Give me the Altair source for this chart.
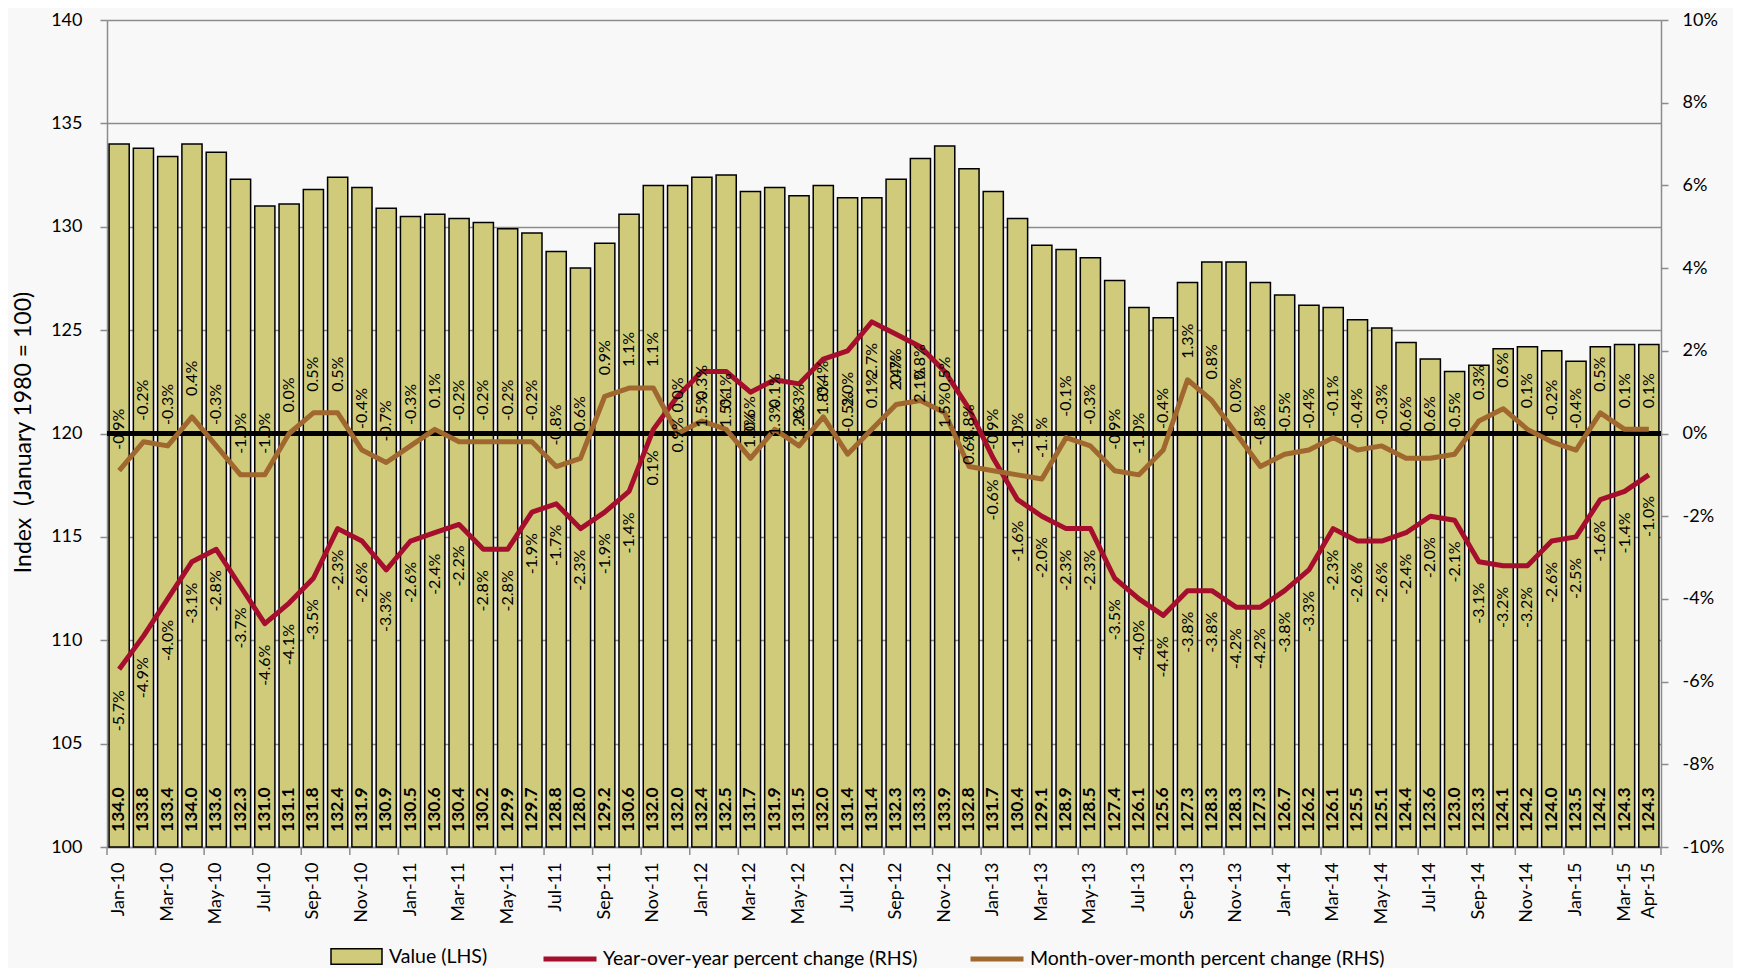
import altair as alt
import pandas as pd

# ---------------- data ----------------
month_names = ["Jan", "Feb", "Mar", "Apr", "May", "Jun",
               "Jul", "Aug", "Sep", "Oct", "Nov", "Dec"]
years = ["10", "11", "12", "13", "14", "15"]
months = [f"{m}-{y}" for y in years for m in month_names][:64]

values = [134.0, 133.8, 133.4, 134.0, 133.6, 132.3, 131.0, 131.1, 131.8, 132.4, 131.9, 130.9,
          130.5, 130.6, 130.4, 130.2, 129.9, 129.7, 128.8, 128.0, 129.2, 130.6, 132.0, 132.0,
          132.4, 132.5, 131.7, 131.9, 131.5, 132.0, 131.4, 131.4, 132.3, 133.3, 133.9, 132.8,
          131.7, 130.4, 129.1, 128.9, 128.5, 127.4, 126.1, 125.6, 127.3, 128.3, 128.3, 127.3,
          126.7, 126.2, 126.1, 125.5, 125.1, 124.4, 123.6, 123.0, 123.3, 124.1, 124.2, 124.0,
          123.5, 124.2, 124.3, 124.3]

yoy = [-5.7, -4.9, -4.0, -3.1, -2.8, -3.7, -4.6, -4.1, -3.5, -2.3, -2.6, -3.3,
       -2.6, -2.4, -2.2, -2.8, -2.8, -1.9, -1.7, -2.3, -1.9, -1.4, 0.1, 0.9,
       1.5, 1.5, 1.0, 1.3, 1.2, 1.8, 2.0, 2.7, 2.4, 2.1, 1.5, 0.6,
       -0.6, -1.6, -2.0, -2.3, -2.3, -3.5, -4.0, -4.4, -3.8, -3.8, -4.2, -4.2,
       -3.8, -3.3, -2.3, -2.6, -2.6, -2.4, -2.0, -2.1, -3.1, -3.2, -3.2, -2.6,
       -2.5, -1.6, -1.4, -1.0]

mom = [-0.9, -0.2, -0.3, 0.4, -0.3, -1.0, -1.0, 0.0, 0.5, 0.5, -0.4, -0.7,
       -0.3, 0.1, -0.2, -0.2, -0.2, -0.2, -0.8, -0.6, 0.9, 1.1, 1.1, 0.0,
       0.3, 0.1, -0.6, 0.1, -0.3, 0.4, -0.5, 0.1, 0.7, 0.8, 0.5, -0.8,
       -0.9, -1.0, -1.1, -0.1, -0.3, -0.9, -1.0, -0.4, 1.3, 0.8, 0.0, -0.8,
       -0.5, -0.4, -0.1, -0.4, -0.3, -0.6, -0.6, -0.5, 0.3, 0.6, 0.1, -0.2,
       -0.4, 0.5, 0.1, 0.1]

SERIES_VALUE = "Value (LHS)"
SERIES_YOY = "Year-over-year percent change (RHS)"
SERIES_MOM = "Month-over-month percent change (RHS)"

left_ticks = [100, 105, 110, 115, 120, 125, 130, 135, 140]
right_ticks = [-10, -8, -6, -4, -2, 0, 2, 4, 6, 8, 10]
labelled = ["Jan", "Mar", "May", "Jul", "Sep", "Nov"]

# ---------------- tables ----------------
bars_df = pd.DataFrame({"month": months, "value": values, "series": SERIES_VALUE})
lines_df = pd.concat([
    pd.DataFrame({"month": months, "pct": yoy, "series": SERIES_YOY}),
    pd.DataFrame({"month": months, "pct": mom, "series": SERIES_MOM}),
], ignore_index=True)
yoy_df = pd.DataFrame({"month": months, "pct": yoy})
mom_df = pd.DataFrame({"month": months, "pct": mom})
tick_df = pd.DataFrame({"month": [m for m in months if m[:3] in labelled]})
end_df = pd.DataFrame({"month": [months[-1]]})

# ---------------- style ----------------
FONT = "Lato"
BAR = "#CFCB7B"
RED = "#A50F2D"
BROWN = "#A0672F"
GRAY = "#8C8C8C"
BG = "#F8F8F8"
W, H = 1554, 827

x_scale = alt.Scale(domain=months, paddingInner=0, paddingOuter=0)
x_axis = alt.Axis(
    title=None, labelAngle=270, ticks=False, tickSize=0, labelPadding=15,
    labelFontSize=18, labelFont=FONT, labelColor="black", grid=False,
    domainColor=GRAY, domainWidth=1.5, labelOverlap=False,
    labelExpr="indexof(['Jan','Mar','May','Jul','Sep','Nov'], slice(datum.label, 0, 3)) >= 0 || datum.label == 'Apr-15' ? datum.label : ''",
)


def xenc(band=None):
    if band is None:
        return alt.X("month:N", sort=months, scale=x_scale, axis=x_axis)
    return alt.X("month:N", sort=months, scale=x_scale, axis=x_axis, bandPosition=band)


left_scale = alt.Scale(domain=[100, 140], nice=False, zero=False)
left_axis = alt.Axis(
    values=left_ticks, tickSize=7, tickWidth=1.5, tickColor=GRAY,
    labelPadding=18, labelFontSize=18, labelFont=FONT, labelColor="black",
    grid=True, gridColor=GRAY, gridWidth=1.5, domainColor=GRAY, domainWidth=1.5,
    title="Index\u00a0 (January 1980 = 100)", titleFont=FONT, titleFontSize=23,
    titleFontWeight="normal", titleColor="black", titleX=-84, titleY=412,
    titleAngle=270, titleAlign="center", titleBaseline="middle",
)

right_scale = alt.Scale(domain=[-10, 10], nice=False)
right_axis = alt.Axis(
    orient="right", values=right_ticks, tickSize=7, tickWidth=1.5, tickColor=GRAY,
    labelPadding=14, labelFontSize=18, labelFont=FONT, labelColor="black",
    labelExpr="(datum.value < 0 ? '-' : '') + abs(datum.value) + '%'",
    grid=False, domainColor=GRAY, domainWidth=1.5, title=None,
)

# ---------------- left (index) layers ----------------
bars = alt.Chart(bars_df).mark_bar(
    width=alt.RelativeBandSize(0.83), stroke="black", strokeWidth=1.5
).encode(
    x=xenc(),
    y=alt.Y("value:Q", scale=left_scale, axis=left_axis),
    y2=alt.Y2Datum(100),
    fill=alt.Fill("series:N", scale=alt.Scale(domain=[SERIES_VALUE], range=[BAR]),
                  legend=alt.Legend(title=None, orient="none", legendX=223, legendY=910,
                                    symbolType="M-1,-0.3H1V0.3H-1Z", symbolSize=2601,
                                    symbolStrokeColor="black", symbolStrokeWidth=1.5,
                                    labelFontSize=19.5, labelFont=FONT, labelColor="black",
                                    labelOffset=6, labelLimit=600)),
)

bar_text = alt.Chart(bars_df).transform_calculate(
    lbl="format(datum.value, '.1f')"
).mark_text(
    angle=270, align="left", baseline="middle", dx=15,
    fontSize=17.5, fontWeight="bold", font=FONT, color="black"
).encode(
    x=xenc(),
    y=alt.YDatum(100, type="quantitative", scale=left_scale, axis=left_axis),
    text="lbl:N",
)

ticks = alt.Chart(tick_df).mark_rule(color=GRAY, strokeWidth=1.5).encode(
    x=xenc(0), y=alt.value(H), y2=alt.value(H + 8)
)
end_tick = alt.Chart(end_df).mark_rule(color=GRAY, strokeWidth=1.5).encode(
    x=xenc(1), y=alt.value(H), y2=alt.value(H + 8)
)

left = alt.layer(bars, bar_text, ticks, end_tick)

# ---------------- right (percent) layers ----------------
zero_rule = alt.Chart(bars_df).mark_rule(color="black", strokeWidth=5).encode(
    y=alt.YDatum(0, type="quantitative", scale=right_scale, axis=right_axis)
)

lines = alt.Chart(lines_df).mark_line(strokeWidth=5, strokeJoin="round").encode(
    x=xenc(),
    y=alt.Y("pct:Q", scale=right_scale, axis=right_axis),
    stroke=alt.Stroke("series:N",
                      scale=alt.Scale(domain=[SERIES_YOY, SERIES_MOM], range=[RED, BROWN]),
                      legend=alt.Legend(title=None, orient="none", legendX=434, legendY=910,
                                        direction="horizontal", symbolType="stroke",
                                        symbolSize=2809, symbolStrokeWidth=5,
                                        labelFontSize=19.5, labelFont=FONT, labelColor="black",
                                        labelOffset=4, columnPadding=42, labelLimit=600)),
    detail="series:N",
)

pct_label = "(datum.pct < 0 ? '-' : '') + format(abs(datum.pct), '.1f') + '%'"

yoy_text = alt.Chart(yoy_df).transform_calculate(lbl=pct_label).mark_text(
    angle=270, align="right", baseline="middle", dx=-21,
    fontSize=16, font=FONT, color="black"
).encode(
    x=xenc(),
    y=alt.Y("pct:Q", scale=right_scale, axis=right_axis),
    text="lbl:N",
)

mom_text = alt.Chart(mom_df).transform_calculate(lbl=pct_label).mark_text(
    angle=270, align="left", baseline="middle", dx=21,
    fontSize=16, font=FONT, color="black"
).encode(
    x=xenc(),
    y=alt.Y("pct:Q", scale=right_scale, axis=right_axis),
    text="lbl:N",
)

right = alt.layer(zero_rule, lines, yoy_text, mom_text)

chart = alt.layer(left, right).resolve_scale(y="independent").properties(
    width=W, height=H,
    autosize=alt.AutoSizeParams(type="none"),
    padding={"left": 99, "top": 12, "right": 72, "bottom": 121},
    background=BG,
).configure_view(stroke=None)

chart.save("out.html", embed_options={"renderer": "svg", "actions": False})
